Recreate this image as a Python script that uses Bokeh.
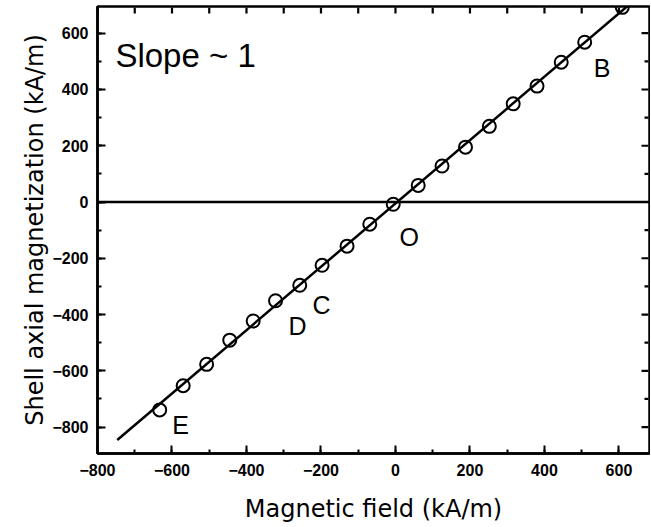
from bokeh.plotting import figure
from bokeh.models import SingleIntervalTicker, Span, ColumnDataSource, Range1d, Label
from bokeh.embed import file_html
from bokeh.resources import INLINE

# ---- data (kA/m) ----
field = [-633, -570, -507, -445, -382, -322, -257, -197, -130, -69, -6,
         61, 125, 188, 252, 316, 380, 445, 508, 609]
magnetization = [-739, -653, -577, -491, -423, -351, -296, -225, -157, -79, -8,
                 59, 128, 195, 269, 349, 412, 497, 568, 692]

fit_slope = 1.126
fit_intercept = -5.0
fit_x = [-747, 640]
fit_y = [fit_slope * x + fit_intercept for x in fit_x]

x_min, x_max = -800, 682
y_min, y_max = -894, 695
x_ticks_interval = 200
y_ticks_interval = 200
top_ticks = list(range(-800, 700, 100))
right_major = list(range(-800, 700, 200))
right_minor = list(range(-700, 700, 200))

point_labels = ["B", "O", "C", "D", "E"]
point_label_x = [532, 11, -223, -287, -599]
point_label_y = [478, -126, -367, -442, -793]

FONT = "Liberation Sans"
FRAME_W, FRAME_H = 552, 447

p = figure(frame_width=FRAME_W, frame_height=FRAME_H,
           x_range=Range1d(x_min, x_max), y_range=Range1d(y_min, y_max),
           output_backend="svg", toolbar_location=None,
           min_border_left=97, min_border_top=6, min_border_right=1,
           min_border_bottom=10,
           x_axis_label="Magnetic field (kA/m)",
           y_axis_label="Shell axial magnetization (kA/m)")
p.grid.visible = False
p.outline_line_color = "black"
p.outline_line_width = 2.5
p.background_fill_color = "white"
p.border_fill_color = "white"

def style_axis(ax, interval, minor):
    ax.ticker = SingleIntervalTicker(interval=interval, num_minor_ticks=minor)
    ax.axis_line_width = 2.5
    ax.axis_line_color = "black"
    ax.major_tick_in = 8
    ax.major_tick_out = 0
    ax.minor_tick_in = 4
    ax.minor_tick_out = 0
    ax.major_tick_line_width = 2
    ax.minor_tick_line_width = 2
    ax.major_tick_line_color = "black"
    ax.minor_tick_line_color = "black"
    ax.major_label_text_font = FONT
    ax.major_label_text_font_style = "bold"
    ax.major_label_text_font_size = "16px"
    ax.major_label_text_color = "black"
    ax.axis_label_text_font = "DejaVu Sans"
    ax.axis_label_text_font_style = "normal"
    ax.axis_label_text_font_size = "24px"
    ax.axis_label_text_color = "black"

style_axis(p.xaxis[0], x_ticks_interval, 2)
p.xaxis[0].major_label_standoff = 10
p.xaxis[0].axis_label_standoff = 16
style_axis(p.yaxis[0], y_ticks_interval, 2)
p.yaxis[0].major_label_standoff = 9
p.yaxis[0].axis_label_standoff = 0

# inward ticks on the top and right frame edges (lengths converted from pixels;
# they start 1px inside the frame so they are not culled)
ux = (x_max - x_min) / FRAME_W   # data units per pixel, x
uy = (y_max - y_min) / FRAME_H   # data units per pixel, y
p.segment(x0=top_ticks, y0=[y_max - 1 * uy] * len(top_ticks),
          x1=top_ticks, y1=[y_max - 7 * uy] * len(top_ticks),
          line_color="black", line_width=2.2)
p.segment(x0=[x_max - 1 * ux] * len(right_major), y0=right_major,
          x1=[x_max - 8 * ux] * len(right_major), y1=right_major,
          line_color="black", line_width=2.2)
p.segment(x0=[x_max - 1 * ux] * len(right_minor), y0=right_minor,
          x1=[x_max - 5 * ux] * len(right_minor), y1=right_minor,
          line_color="black", line_width=2.2)

zero = Span(location=0, dimension="width", line_color="black", line_width=2.5)
p.add_layout(zero)

p.line(fit_x, fit_y, line_color="black", line_width=2.5)
src = ColumnDataSource(dict(x=field, y=magnetization))
p.scatter("x", "y", source=src, marker="circle", size=13, line_color="black",
          line_width=2, fill_color=None)

p.add_layout(Label(x=-752, y=521, text="Slope ~ 1", text_font=FONT,
                   text_font_size="33px", text_color="black",
                   text_baseline="alphabetic", text_align="left"))
for t, lx, ly in zip(point_labels, point_label_x, point_label_y):
    p.add_layout(Label(x=lx, y=ly, text=t, text_font=FONT, text_font_size="25px",
                       text_color="black", text_baseline="alphabetic",
                       text_align="left"))

open("out.html", "w").write(file_html(p, INLINE))
